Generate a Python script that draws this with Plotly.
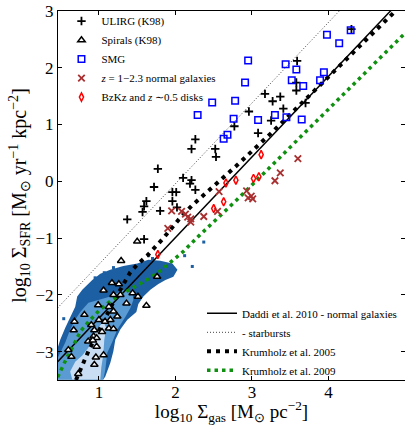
import plotly.graph_objects as go

# ---------------- data ----------------
# ULIRG (K98)
ulirg_x = [4.30, 3.59, 3.58, 3.58, 3.17, 3.27, 3.37, 3.41, 3.70, 2.96, 3.25, 2.77, 3.08,
           2.26, 2.21, 2.52, 2.53, 1.77, 2.10, 2.21, 2.19, 2.26, 1.72, 1.96, 2.01, 1.96,
           1.62, 1.59, 1.57, 1.80, 2.02, 1.37, 1.59]
ulirg_y = [2.68, 2.12, 1.74, 1.60, 1.54, 1.41, 1.49, 1.28, 1.38, 1.23, 1.07, 0.97, 0.85,
           0.74, 0.57, 0.57, 0.43, 0.22, 0.06, 0.02, -0.04, -0.15, -0.10, -0.19, -0.19, -0.35,
           -0.35, -0.44, -0.54, -0.52, -0.46, -0.67, -1.02]

# Spirals (K98)
spiral_x = [1.50, 1.29, 1.76, 1.17, 1.26, 1.06, 1.19, 1.28, 1.44, 1.51, 1.62, 1.36, 0.99,
            1.13, 1.19, 1.24, 1.00, 1.08, 0.81, 0.68, 0.90, 0.67, 0.94, 1.04, 1.13, 1.19,
            0.93, 0.97, 0.86, 0.92, 0.97, 0.60, 0.64, 1.06, 0.96, 0.94, 0.73, 1.15]
spiral_y = [-1.06, -1.40, -1.68, -1.79, -1.81, -1.92, -2.00, -2.00, -1.97, -2.03, -2.19, -2.15, -2.18,
            -2.21, -2.29, -2.38, -2.44, -2.47, -2.35, -2.47, -2.53, -2.62, -2.62, -2.65, -2.59, -2.60,
            -2.73, -2.76, -2.82, -2.80, -2.91, -2.97, -3.09, -3.06, -3.10, -3.23, -3.39, -2.44]

# SMG
smg_x = [4.29, 3.98, 4.14, 2.95, 3.44, 3.58, 3.94, 2.91, 3.52, 3.67, 3.89, 2.48, 2.78,
         2.29, 2.76, 3.08, 3.30, 3.45, 3.65, 2.68, 2.63]
smg_y = [2.66, 2.58, 2.43, 2.13, 2.06, 1.97, 1.92, 1.74, 1.78, 1.68, 1.78, 1.39, 1.42,
         1.17, 1.10, 1.08, 1.17, 1.13, 1.09, 0.82, 0.75]

# z = 1-2.3 normal galaxies
bzk_x = [3.60, 3.37, 3.30, 2.93, 2.99, 3.01, 2.95, 2.57, 2.55, 2.37, 2.20, 2.16, 2.20,
         2.08, 1.95, 1.90, 2.13]
bzk_y = [0.40, 0.15, 0.01, -0.17, -0.26, -0.31, -0.29, -0.18, -0.53, -0.62, -0.66, -0.63, -0.72,
         -0.53, -0.52, -0.83, -0.58]

# BzKz and z~0.5 disks
disk_x = [3.12, 2.79, 3.02, 3.09, 2.66, 2.63, 2.50, 1.77]
disk_y = [0.47, 0.02, 0.05, 0.08, -0.03, -0.36, -0.48, -1.29]

# relations
normal_x = [0.46, 5.0]
normal_y = [-3.18, 3.27]
starburst_x = [0.46, 4.5]
starburst_y = [-2.23, 3.51]
km05_x = [0.70, 0.82, 0.87, 1.00, 1.20, 1.41, 1.50, 1.63, 1.74, 1.83, 1.96, 2.07, 2.22,
          2.55, 2.81, 3.26, 3.53, 3.81, 4.07, 4.25, 4.60, 4.86]
km05_y = [-3.50, -3.14, -2.97, -2.63, -2.10, -1.60, -1.47, -1.31, -1.16, -1.02, -0.81, -0.63, -0.42,
          -0.03, 0.29, 0.86, 1.22, 1.58, 1.94, 2.18, 2.63, 2.98]
kmt09_x = [0.46, 0.52, 0.58, 0.64, 0.70, 0.76, 0.88, 1.00, 1.12, 1.24, 1.36, 1.48, 1.62,
           1.78, 1.93, 2.10, 2.30, 2.50, 2.80, 3.20, 3.60, 4.00, 4.50, 5.00]
kmt09_y = [-3.45, -3.27, -3.11, -2.96, -2.79, -2.64, -2.45, -2.28, -2.14, -2.03, -1.94, -1.85, -1.74,
           -1.60, -1.44, -1.24, -0.97, -0.72, -0.33, 0.20, 0.73, 1.27, 1.94, 2.61]

# local spiral pixel density (filled contour outlines)
dark_x = [0.461, 0.494, 0.560, 0.624, 0.690, 0.716, 0.782, 0.913, 1.018, 1.148, 1.319, 1.502,
          1.646, 1.803, 1.960, 2.026, 1.973, 1.869, 1.777, 1.672, 1.581, 1.515, 1.489, 1.371,
          1.279, 1.214, 1.188, 1.148, 1.083, 1.057, 0.461]
dark_y = [-2.93, -2.79, -2.58, -2.39, -2.21, -2.03, -1.91, -1.74, -1.63, -1.56, -1.49, -1.45,
          -1.38, -1.40, -1.45, -1.56, -1.68, -1.74, -1.81, -1.91, -2.03, -2.16, -2.30, -2.44,
          -2.61, -2.79, -3.00, -3.20, -3.44, -3.49, -3.49]
mid_x = [0.992, 0.862, 0.756, 0.690, 0.624, 0.560, 0.494, 0.461, 0.461, 1.057, 1.083, 1.109,
         1.174, 1.240, 1.345, 1.411, 1.450, 1.437, 1.306, 1.174]
mid_y = [-2.09, -2.14, -2.30, -2.44, -2.61, -2.84, -3.02, -3.11, -3.49, -3.49, -3.32, -3.02,
         -2.83, -2.61, -2.39, -2.23, -2.09, -1.96, -1.91, -2.02]
light_x = [0.651, 0.624, 0.690, 0.782, 0.861, 0.926, 0.992, 1.057, 1.096, 1.070, 1.057, 1.031, 1.018]
light_y = [-3.49, -3.35, -3.18, -3.07, -2.93, -2.76, -2.58, -2.47, -2.58, -2.79, -3.05, -3.28, -3.49]
speck_x = [0.54, 1.07, 1.19, 0.95, 1.32, 2.22, 2.37, 2.12, 1.65, 1.70]
speck_y = [-2.42, -1.61, -1.52, -1.70, -1.61, -1.50, -1.07, -1.31, -1.31, -1.36]

x_ticks = [1, 2, 3, 4]
y_ticks = [-3, -2, -1, 0, 1, 2, 3]

# ---------------- figure ----------------
SERIF = "Liberation Serif"
DARK, MID, LIGHT = "#1d5fa3", "#5b9bd3", "#c9def2"

fig = go.Figure()

for xs, ys, col in [(dark_x, dark_y, DARK), (mid_x, mid_y, MID), (light_x, light_y, LIGHT)]:
    fig.add_trace(go.Scatter(x=xs, y=ys, mode="lines", fill="toself", fillcolor=col,
                             line=dict(width=0, color=col), showlegend=False, hoverinfo="skip"))
fig.add_trace(go.Scatter(x=speck_x, y=speck_y, mode="markers",
                         marker=dict(symbol="square", size=3, color=DARK),
                         showlegend=False, hoverinfo="skip"))

# relation lines (second legend)
fig.add_trace(go.Scatter(x=normal_x, y=normal_y, mode="lines", legend="legend2",
                         line=dict(color="black", width=1.5),
                         name="Daddi et al. 2010 - normal galaxies"))
fig.add_trace(go.Scatter(x=starburst_x, y=starburst_y, mode="lines", legend="legend2",
                         line=dict(color="#444444", width=1, dash="1px,2px"),
                         name="- starbursts"))
fig.add_trace(go.Scatter(x=km05_x, y=km05_y, mode="lines", legend="legend2",
                         line=dict(color="black", width=4, dash="4px,5px"),
                         name="Krumholz et al. 2005"))
fig.add_trace(go.Scatter(x=kmt09_x, y=kmt09_y, mode="lines", legend="legend2",
                         line=dict(color="#109010", width=3.5, dash="3.5px,4px"),
                         name="Krumholz et al. 2009"))

# data points (first legend)
fig.add_trace(go.Scatter(x=ulirg_x, y=ulirg_y, mode="markers", name="ULIRG (K98)",
                         marker=dict(symbol="cross-thin", size=6,
                                     line=dict(color="black", width=1.8))))
fig.add_trace(go.Scatter(x=spiral_x, y=spiral_y, mode="markers", name="Spirals (K98)",
                         marker=dict(symbol="triangle-up", size=6.5, color="white",
                                     line=dict(color="black", width=1.5))))
fig.add_trace(go.Scatter(x=smg_x, y=smg_y, mode="markers", name="SMG",
                         marker=dict(symbol="square-open", size=6.5, color="#0000ff",
                                     line=dict(width=1.5))))
fig.add_trace(go.Scatter(x=bzk_x, y=bzk_y, mode="markers",
                         name="<i>z</i> = 1−2.3 normal galaxies",
                         marker=dict(symbol="x-thin", size=6.5,
                                     line=dict(color="#a83030", width=1.8))))
fig.add_trace(go.Scatter(x=disk_x, y=disk_y, mode="markers",
                         name="BzKz and <i>z</i> ∼0.5 disks",
                         marker=dict(symbol="diamond-tall-open", size=6, color="#ff0000",
                                     line=dict(width=1.5))))

axis_common = dict(showline=True, linecolor="black", linewidth=1, mirror="ticks",
                   ticks="inside", ticklen=4, tickcolor="black", tickwidth=1,
                   showgrid=False, zeroline=False,
                   tickfont=dict(family=SERIF, size=17, color="black"))

fig.update_layout(
    width=405, height=425,
    margin=dict(l=58, r=0, t=11, b=45),
    paper_bgcolor="white", plot_bgcolor="white",
    font=dict(family=SERIF, color="black"),
    xaxis=dict(range=[0.465, 5.0], tickvals=x_ticks, ticklabelstandoff=-3,
               title=dict(text="log<sub>10</sub> Σ<sub>gas</sub> [M<sub>⊙</sub> pc<sup>−2</sup>]",
                          font=dict(family=SERIF, size=19), standoff=7),
               **axis_common),
    yaxis=dict(range=[-3.5, 3.0], tickvals=y_ticks,
               title=dict(text="log<sub>10</sub> Σ<sub>SFR</sub> [M<sub>⊙</sub> yr<sup>−1</sup> kpc<sup>−2</sup>]",
                          font=dict(family=SERIF, size=20), standoff=3),
               **axis_common),
    legend=dict(x=0.01, y=1.012, xanchor="left", yanchor="top", bgcolor="rgba(0,0,0,0)",
                font=dict(family=SERIF, size=11, color="black"), tracegroupgap=0),
    legend2=dict(x=0.415, y=0.22, xanchor="left", yanchor="top", bgcolor="rgba(0,0,0,0)",
                 font=dict(family=SERIF, size=11, color="black"), tracegroupgap=0),
    showlegend=True,
)

fig.write_html("out.html")
